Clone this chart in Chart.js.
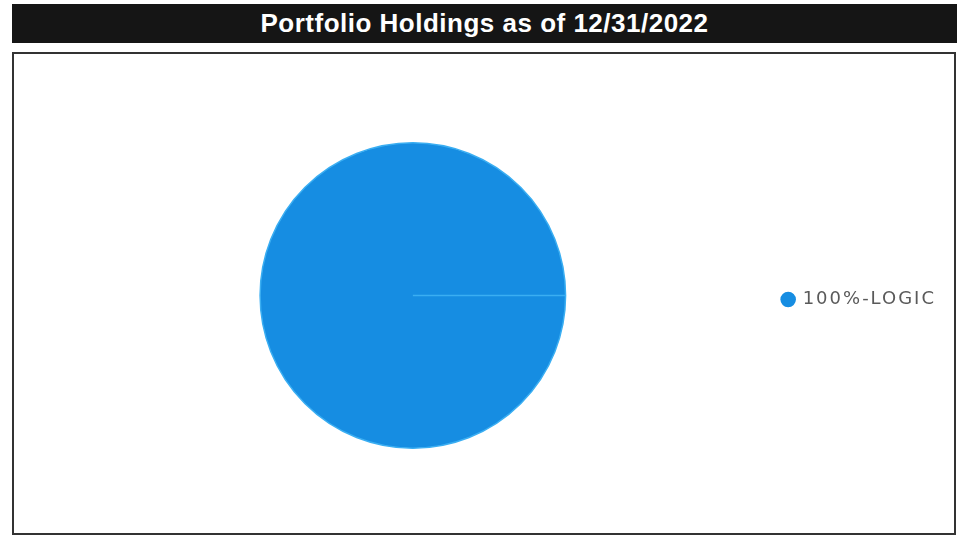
<!DOCTYPE html>
<html>
<head>
<meta charset="utf-8">
<script src="https://cdn.jsdelivr.net/npm/chart.js@4/dist/chart.umd.min.js"></script>
<style>
  html, body { margin: 0; padding: 0; background: #fff; width: 976px; height: 536px; overflow: hidden; }
  #titlebar {
    position: absolute; left: 12px; top: 4px; width: 945px; height: 39px;
    background: #151515; color: #fff;
    font-family: "Liberation Sans", Arial, sans-serif; font-weight: bold; font-size: 26px;
    letter-spacing: 0.5px; line-height: 39px; text-align: center;
  }
  #box {
    position: absolute; left: 12px; top: 52px; width: 940px; height: 479px;
    border: 2px solid #333; background: #fff;
  }
  #wrap { position: absolute; left: 0; top: 0; width: 940px; height: 479px; }
</style>
</head>
<body>
<div id="titlebar">Portfolio Holdings as of 12/31/2022</div>
<div id="box"><div id="wrap"><canvas id="c"></canvas></div></div>
<script>
const categories = ["100%-LOGIC"];
const holdings = [100];
const sliceColors = ["#168de2"];

const spacing = {
  id: 'spacing',
  beforeInit(chart) { chart.ctx.letterSpacing = '2px'; },
  beforeUpdate(chart) { chart.ctx.letterSpacing = '2px'; },
  afterLayout(chart) {
    if (chart.legend) { chart.legend.top += 4; chart.legend.bottom += 4; }
  }
};

new Chart(document.getElementById('c'), {
  type: 'pie',
  data: {
    labels: categories,
    datasets: [{
      data: holdings,
      backgroundColor: sliceColors,
      borderColor: '#3aaef2',
      borderWidth: 1.5,
      rotation: 90
    }]
  },
  options: {
    responsive: true,
    maintainAspectRatio: false,
    animation: false,
    layout: { padding: { left: 39, right: 8, top: 88, bottom: 84 } },
    plugins: {
      title: { display: false },
      tooltip: { enabled: false },
      legend: {
        position: 'right',
        labels: {
          usePointStyle: true,
          pointStyle: 'circle',
          boxWidth: 11,
          boxHeight: 11,
          padding: 10,
          color: '#5a5a5a',
          font: { family: "DejaVu Sans", size: 18 },
          generateLabels(chart) {
            const items = Chart.overrides.pie.plugins.legend.labels.generateLabels(chart);
            items.forEach(it => { it.lineWidth = 0; it.strokeStyle = it.fillStyle; });
            return items;
          }
        }
      }
    }
  },
  plugins: [spacing]
});
</script>
</body>
</html>
